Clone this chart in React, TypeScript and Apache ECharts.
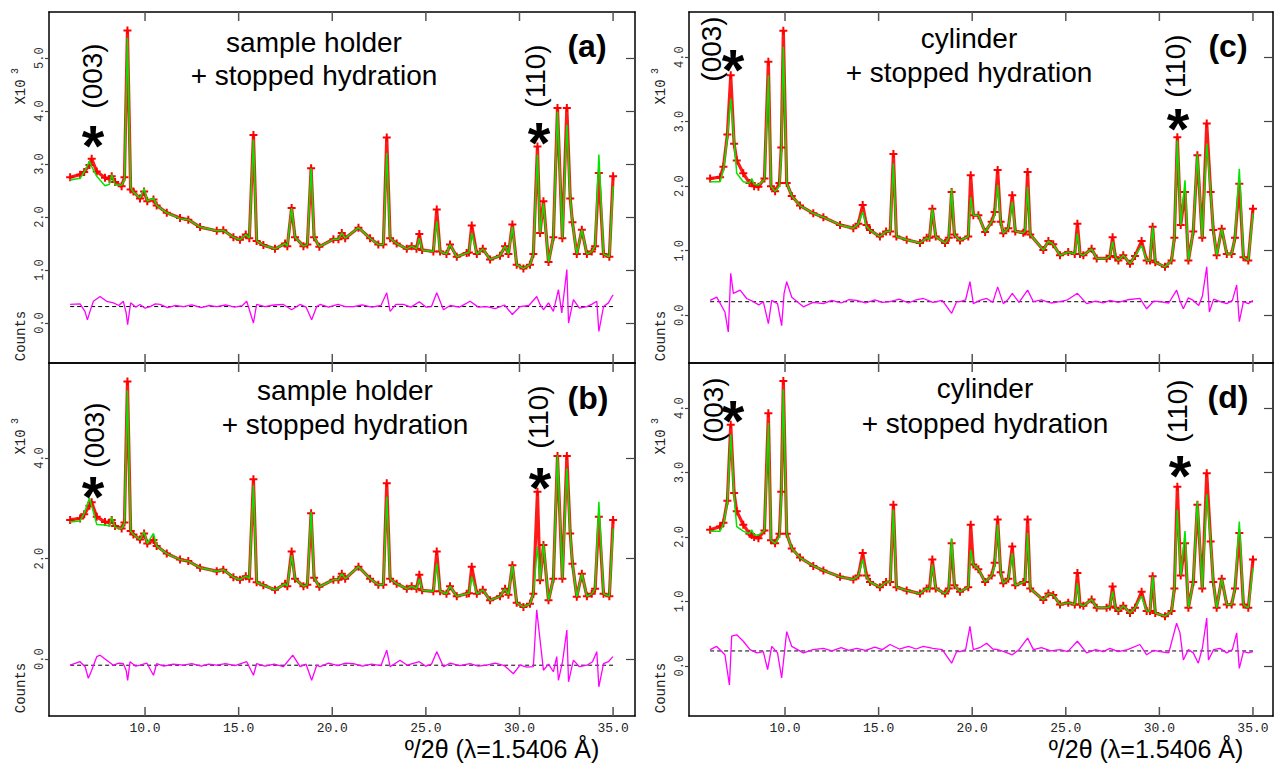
import React, { useEffect, useRef } from "react";
import * as echarts from "echarts";

// ---------- DATA (intensities in units of 10^3 counts) ----------
const thetaAB = [
  6.00, 6.53, 6.75, 7.03, 7.15, 7.42, 7.86, 8.10, 8.22, 8.40,
  8.75, 8.90, 9.06, 9.23, 9.38, 9.73, 9.95, 10.12, 10.45, 10.62,
  11.16, 11.87, 12.31, 12.94, 13.83, 14.18, 14.72, 15.07, 15.38, 15.57,
  15.79, 15.96, 16.32, 16.94, 17.48, 17.60, 17.83, 18.01, 18.46, 18.67,
  18.87, 19.03, 19.31, 20.06, 20.33, 20.51, 20.69, 21.40, 22.02, 22.46,
  22.73, 22.91, 23.09, 23.44, 23.98, 24.24, 24.50, 24.65, 24.80, 25.40,
  25.58, 25.76, 26.10, 26.29, 26.65, 27.18, 27.30, 27.45, 27.72, 28.04,
  28.43, 28.96, 29.23, 29.41, 29.62, 29.85, 30.21, 30.56, 30.74, 30.96,
  31.10, 31.28, 31.55, 31.81, 32.03, 32.29, 32.53, 32.71, 32.83, 33.06,
  33.33, 33.60, 33.86, 34.04, 34.24, 34.49, 34.80, 35.00,
];
const calcA = [
  2.70, 2.73, 2.85, 3.05, 2.95, 2.77, 2.59, 2.62, 2.80, 2.61,
  2.60, 2.70, 5.38, 2.55, 2.47, 2.36, 2.54, 2.30, 2.36, 2.22,
  2.08, 1.97, 1.95, 1.81, 1.74, 1.75, 1.62, 1.57, 1.67, 1.60,
  3.46, 1.55, 1.47, 1.40, 1.50, 1.45, 2.17, 1.62, 1.45, 1.48,
  2.92, 1.62, 1.44, 1.58, 1.58, 1.70, 1.60, 1.80, 1.60, 1.48,
  1.48, 3.21, 1.60, 1.50, 1.40, 1.45, 1.40, 1.60, 1.38, 1.35,
  1.92, 1.35, 1.30, 1.48, 1.25, 1.32, 1.33, 1.70, 1.30, 1.40,
  1.20, 1.27, 1.45, 1.30, 1.82, 1.10, 1.03, 1.10, 1.30, 3.18,
  1.70, 2.26, 1.15, 1.62, 3.99, 1.60, 3.74, 2.35, 1.90, 1.30,
  1.76, 1.30, 1.35, 1.45, 3.18, 1.30, 1.25, 2.58,
];
const obsA = [
  2.75, 2.80, 2.85, 2.98, 3.10, 2.86, 2.74, 2.72, 2.77, 2.66,
  2.58, 2.75, 5.52, 2.52, 2.48, 2.35, 2.48, 2.30, 2.33, 2.22,
  2.08, 1.98, 1.95, 1.81, 1.74, 1.75, 1.62, 1.57, 1.67, 1.60,
  3.55, 1.55, 1.47, 1.40, 1.50, 1.45, 2.17, 1.62, 1.45, 1.48,
  2.92, 1.62, 1.44, 1.58, 1.58, 1.70, 1.60, 1.80, 1.60, 1.48,
  1.48, 3.50, 1.60, 1.50, 1.40, 1.45, 1.40, 1.68, 1.38, 1.35,
  2.14, 1.35, 1.30, 1.48, 1.25, 1.32, 1.33, 1.84, 1.30, 1.40,
  1.20, 1.27, 1.45, 1.30, 1.86, 1.10, 1.03, 1.10, 1.30, 3.33,
  1.70, 2.30, 1.15, 1.62, 4.06, 1.60, 4.06, 2.35, 1.90, 1.30,
  1.76, 1.30, 1.35, 1.45, 2.83, 1.30, 1.25, 2.77,
];
const calcB = [
  2.73, 2.75, 2.90, 3.20, 3.05, 2.68, 2.67, 2.65, 2.83, 2.62,
  2.60, 2.70, 5.35, 2.55, 2.48, 2.38, 2.53, 2.30, 2.50, 2.25,
  2.10, 1.98, 1.95, 1.82, 1.75, 1.78, 1.63, 1.58, 1.65, 1.60,
  3.46, 1.53, 1.47, 1.38, 1.50, 1.45, 2.07, 1.60, 1.45, 1.48,
  2.93, 1.62, 1.44, 1.58, 1.58, 1.70, 1.60, 1.84, 1.60, 1.48,
  1.48, 3.23, 1.60, 1.50, 1.40, 1.45, 1.40, 1.60, 1.37, 1.35,
  1.90, 1.35, 1.30, 1.45, 1.25, 1.30, 1.31, 1.64, 1.30, 1.38,
  1.17, 1.25, 1.40, 1.28, 1.87, 1.12, 1.04, 1.10, 1.30, 2.24,
  1.57, 2.30, 1.17, 1.60, 4.06, 1.60, 3.79, 2.50, 1.90, 1.24,
  1.70, 1.25, 1.30, 1.40, 3.13, 1.30, 1.25, 2.60,
];
const obsB = [
  2.77, 2.80, 2.88, 3.05, 3.12, 2.83, 2.73, 2.72, 2.77, 2.65,
  2.60, 2.72, 5.52, 2.55, 2.48, 2.38, 2.50, 2.30, 2.37, 2.25,
  2.10, 1.98, 1.95, 1.82, 1.75, 1.78, 1.63, 1.58, 1.65, 1.60,
  3.58, 1.53, 1.47, 1.38, 1.50, 1.45, 2.14, 1.60, 1.45, 1.48,
  2.90, 1.62, 1.44, 1.58, 1.58, 1.70, 1.60, 1.84, 1.60, 1.48,
  1.48, 3.50, 1.60, 1.50, 1.40, 1.45, 1.40, 1.68, 1.37, 1.35,
  2.14, 1.35, 1.30, 1.45, 1.25, 1.30, 1.31, 1.84, 1.30, 1.38,
  1.17, 1.25, 1.40, 1.28, 1.87, 1.12, 1.04, 1.10, 1.30, 3.33,
  1.57, 2.27, 1.17, 1.60, 4.04, 1.60, 4.04, 2.50, 1.90, 1.24,
  1.70, 1.25, 1.30, 1.40, 2.83, 1.30, 1.25, 2.77,
];

const thetaCD = [
  6.00, 6.53, 6.71, 6.92, 7.10, 7.28, 7.42, 7.77, 8.10, 8.22,
  8.35, 8.58, 8.90, 9.11, 9.25, 9.47, 9.70, 9.80, 9.91, 10.09,
  10.36, 10.80, 11.51, 12.05, 12.94, 13.65, 13.92, 14.15, 14.35, 14.54,
  15.07, 15.40, 15.62, 15.79, 15.95, 16.50, 17.21, 17.57, 17.72, 17.87,
  18.05, 18.55, 18.75, 18.90, 19.05, 19.35, 19.79, 19.92, 20.06, 20.33,
  20.69, 21.04, 21.20, 21.36, 21.52, 21.66, 21.93, 22.14, 22.30, 22.73,
  22.82, 22.96, 23.10, 23.80, 24.07, 24.33, 24.69, 25.13, 25.48, 25.62,
  25.76, 25.94, 26.38, 26.65, 27.18, 27.36, 27.50, 27.65, 27.81, 28.07,
  28.43, 28.70, 29.05, 29.32, 29.50, 29.64, 29.78, 30.30, 30.65, 30.80,
  30.96, 31.14, 31.37, 31.55, 31.81, 32.03, 32.29, 32.53, 32.74, 32.88,
  33.06, 33.33, 33.60, 33.86, 34.04, 34.27, 34.49, 34.75, 35.00,
];
const calcC = [
  2.07, 2.07, 2.25, 2.76, 3.36, 2.71, 2.20, 2.07, 2.05, 2.12,
  2.03, 2.02, 2.10, 3.72, 2.00, 1.92, 2.00, 2.50, 4.16, 2.05,
  1.85, 1.70, 1.58, 1.52, 1.40, 1.35, 1.42, 1.60, 1.38, 1.32,
  1.22, 1.30, 1.30, 2.35, 1.22, 1.17, 1.12, 1.20, 1.18, 1.65,
  1.22, 1.12, 1.20, 1.96, 1.25, 1.16, 1.22, 1.83, 1.55, 1.55,
  1.29, 1.45, 1.55, 2.02, 1.45, 1.27, 1.35, 1.76, 1.30, 1.28,
  1.30, 1.99, 1.25, 1.01, 1.15, 1.10, 0.93, 0.98, 0.95, 1.27,
  0.95, 0.93, 1.03, 0.88, 0.88, 0.92, 1.14, 0.90, 0.85, 0.93,
  0.80, 0.92, 1.08, 0.85, 0.85, 1.37, 0.82, 0.75, 0.85, 1.20,
  2.71, 1.40, 2.09, 0.85, 1.30, 2.50, 1.20, 2.66, 1.91, 1.32,
  0.93, 1.34, 0.95, 0.95, 1.20, 2.27, 0.90, 0.85, 1.58,
];
const obsC = [
  2.12, 2.14, 2.30, 2.80, 3.72, 2.66, 2.40, 2.20, 2.05, 2.05,
  2.00, 1.99, 2.12, 3.93, 2.00, 1.92, 2.05, 2.60, 4.41, 2.05,
  1.85, 1.70, 1.58, 1.52, 1.40, 1.35, 1.42, 1.71, 1.40, 1.32,
  1.22, 1.30, 1.30, 2.50, 1.22, 1.17, 1.12, 1.20, 1.20, 1.65,
  1.22, 1.12, 1.20, 1.91, 1.25, 1.16, 1.22, 2.17, 1.55, 1.55,
  1.29, 1.45, 1.60, 2.25, 1.45, 1.27, 1.35, 1.86, 1.30, 1.28,
  1.30, 2.22, 1.25, 1.01, 1.15, 1.10, 0.93, 0.98, 0.95, 1.42,
  0.95, 0.93, 1.03, 0.88, 0.88, 0.92, 1.21, 0.90, 0.85, 0.93,
  0.80, 0.92, 1.15, 0.85, 0.85, 1.37, 0.82, 0.75, 0.85, 1.20,
  2.76, 1.40, 1.91, 0.85, 1.30, 2.48, 1.20, 2.97, 1.91, 1.32,
  0.93, 1.34, 0.95, 0.95, 1.20, 2.04, 0.90, 0.85, 1.65,
];
const calcD = [
  2.09, 2.09, 2.20, 2.53, 3.59, 2.63, 2.16, 2.09, 2.05, 2.11,
  2.03, 2.03, 2.10, 3.77, 1.95, 1.90, 2.00, 2.60, 4.29, 2.05,
  1.82, 1.68, 1.55, 1.48, 1.38, 1.34, 1.40, 1.65, 1.38, 1.30,
  1.22, 1.30, 1.30, 2.42, 1.22, 1.17, 1.12, 1.20, 1.18, 1.57,
  1.20, 1.12, 1.20, 1.98, 1.25, 1.15, 1.22, 1.80, 1.57, 1.50,
  1.30, 1.40, 1.55, 2.19, 1.45, 1.28, 1.35, 1.75, 1.25, 1.30,
  1.30, 2.06, 1.20, 1.02, 1.12, 1.10, 0.95, 0.98, 0.95, 1.28,
  0.95, 0.93, 1.03, 0.90, 0.90, 0.92, 1.15, 0.90, 0.85, 0.93,
  0.82, 0.90, 1.08, 0.85, 0.85, 1.39, 0.82, 0.77, 0.85, 1.20,
  2.42, 1.40, 2.09, 0.90, 1.30, 2.55, 1.20, 2.66, 1.93, 1.30,
  0.90, 1.35, 0.95, 0.95, 1.20, 2.24, 0.95, 0.90, 1.52,
];
const obsD = [
  2.11, 2.16, 2.22, 2.56, 3.74, 2.68, 2.40, 2.19, 2.05, 2.03,
  2.00, 1.98, 2.10, 3.92, 1.95, 1.90, 2.05, 2.70, 4.42, 2.05,
  1.82, 1.68, 1.55, 1.48, 1.38, 1.34, 1.40, 1.75, 1.40, 1.30,
  1.22, 1.30, 1.30, 2.50, 1.22, 1.17, 1.12, 1.20, 1.20, 1.65,
  1.20, 1.12, 1.20, 1.90, 1.25, 1.15, 1.22, 2.19, 1.57, 1.50,
  1.30, 1.40, 1.60, 2.27, 1.45, 1.28, 1.35, 1.85, 1.25, 1.30,
  1.30, 2.27, 1.20, 1.02, 1.12, 1.10, 0.95, 0.98, 0.95, 1.44,
  0.95, 0.93, 1.03, 0.90, 0.90, 0.92, 1.23, 0.90, 0.85, 0.93,
  0.82, 0.90, 1.15, 0.85, 0.85, 1.39, 0.82, 0.77, 0.85, 1.20,
  2.78, 1.40, 1.90, 0.90, 1.30, 2.50, 1.20, 2.99, 1.93, 1.30,
  0.90, 1.35, 0.95, 0.95, 1.20, 2.06, 0.95, 0.90, 1.65,
];

// difference curves (obs - calc, drawn with an offset), [2θ, value]
const diffA = [
  [6.00, 0.35], [6.53, 0.36], [6.79, 0.22], [6.92, 0.06], [7.06, 0.22], [7.24, 0.41], [7.60, 0.50], [7.95, 0.41],
  [8.31, 0.38], [8.60, 0.33], [8.84, 0.41], [8.99, 0.19], [9.07, -0.03], [9.23, 0.38], [9.50, 0.30], [9.73, 0.35],
  [10.00, 0.28], [10.27, 0.31], [10.55, 0.36], [10.80, 0.35], [11.20, 0.29], [11.60, 0.33], [12.05, 0.31], [12.50, 0.34],
  [13.00, 0.29], [13.40, 0.33], [13.83, 0.31], [14.30, 0.34], [14.80, 0.30], [15.20, 0.33], [15.43, 0.41], [15.79, 0.00],
  [15.96, 0.35], [16.40, 0.31], [16.90, 0.34], [17.39, 0.35], [17.83, 0.25], [18.28, 0.35], [18.60, 0.30], [18.90, 0.06],
  [19.17, 0.31], [19.35, 0.35], [19.80, 0.30], [20.30, 0.35], [20.70, 0.31], [21.13, 0.31], [21.60, 0.34], [22.10, 0.30],
  [22.60, 0.33], [22.91, 0.57], [23.09, 0.22], [23.40, 0.35], [23.80, 0.35], [24.20, 0.30], [24.65, 0.40], [25.00, 0.30],
  [25.30, 0.31], [25.58, 0.57], [25.94, 0.25], [26.30, 0.33], [26.80, 0.30], [27.36, 0.41], [27.80, 0.30], [28.25, 0.31],
  [28.70, 0.27], [29.20, 0.34], [29.62, 0.16], [30.03, 0.31], [30.50, 0.33], [30.92, 0.50], [31.10, 0.35], [31.28, 0.25],
  [31.55, 0.38], [31.81, 0.22], [32.08, 0.63], [32.26, 0.19], [32.53, 1.01], [32.62, 0.00], [32.88, 0.44], [33.20, 0.28],
  [33.60, 0.31], [33.90, 0.36], [34.13, 0.41], [34.24, -0.16], [34.49, 0.31], [34.75, 0.38], [34.94, 0.50], [35.00, 0.53],
];
const diffB = [
  [6.00, -0.12], [6.53, -0.05], [6.80, -0.15], [6.97, -0.38], [7.15, -0.22], [7.42, 0.05], [7.60, 0.08], [7.95, -0.02],
  [8.31, -0.12], [8.60, -0.08], [8.84, -0.09], [8.99, -0.22], [9.07, -0.42], [9.20, -0.05], [9.50, -0.14], [9.73, -0.12],
  [10.10, -0.08], [10.45, -0.32], [10.62, -0.09], [11.00, -0.14], [11.50, -0.10], [12.05, -0.12], [12.50, -0.09], [13.00, -0.14],
  [13.40, -0.10], [13.83, -0.12], [14.30, -0.09], [14.80, -0.13], [15.43, -0.05], [15.79, -0.32], [15.96, -0.09], [16.40, -0.14],
  [16.90, -0.10], [17.39, -0.15], [17.89, 0.08], [18.28, -0.15], [18.60, -0.10], [18.90, -0.42], [19.17, -0.12], [19.35, -0.15],
  [19.80, -0.08], [20.30, -0.13], [20.70, -0.08], [21.13, -0.09], [21.60, -0.14], [22.10, -0.10], [22.60, -0.13], [22.91, 0.18],
  [23.09, -0.15], [23.62, -0.02], [24.00, -0.12], [24.65, -0.05], [25.00, -0.14], [25.30, -0.10], [25.58, 0.15], [25.94, -0.15],
  [26.30, -0.08], [26.80, -0.13], [27.36, -0.09], [27.80, -0.14], [28.25, -0.12], [28.70, -0.08], [29.20, -0.13], [29.67, -0.29],
  [30.03, -0.12], [30.40, -0.16], [30.74, -0.15], [30.92, 0.98], [31.10, 0.38], [31.28, -0.22], [31.55, -0.10], [31.81, -0.25],
  [31.99, 0.05], [32.08, -0.42], [32.30, -0.05], [32.53, 0.58], [32.62, -0.45], [32.88, -0.02], [33.20, -0.15], [33.60, -0.12],
  [33.90, -0.05], [34.13, 0.15], [34.24, -0.55], [34.49, -0.09], [34.75, -0.05], [34.99, 0.05],
];
const diffC = [
  [6.00, 0.23], [6.35, 0.28], [6.79, 0.05], [6.97, -0.26], [7.10, 0.65], [7.24, 0.34], [7.60, 0.39], [7.95, 0.26],
  [8.31, 0.21], [8.60, 0.16], [8.84, 0.21], [9.11, -0.13], [9.29, 0.23], [9.60, 0.18], [9.82, -0.16], [9.95, 0.34],
  [10.09, 0.52], [10.36, 0.28], [10.98, 0.13], [11.50, 0.20], [12.05, 0.18], [12.50, 0.23], [13.00, 0.19], [13.40, 0.24],
  [13.83, 0.23], [14.30, 0.19], [14.80, 0.24], [15.20, 0.20], [15.61, 0.21], [16.10, 0.25], [16.60, 0.19], [17.00, 0.24],
  [17.39, 0.26], [17.90, 0.20], [18.40, 0.23], [18.90, 0.03], [19.17, 0.21], [19.35, 0.21], [19.65, 0.24], [19.88, 0.52],
  [20.06, 0.18], [20.40, 0.23], [20.77, 0.26], [21.10, 0.20], [21.36, 0.44], [21.66, 0.18], [21.90, 0.24], [22.14, 0.34],
  [22.50, 0.20], [22.96, 0.39], [23.27, 0.21], [23.70, 0.24], [24.20, 0.19], [24.69, 0.21], [25.10, 0.24], [25.62, 0.34],
  [26.11, 0.18], [26.60, 0.22], [27.00, 0.19], [27.36, 0.23], [27.80, 0.20], [28.30, 0.24], [28.96, 0.26], [29.32, 0.10],
  [29.70, 0.22], [30.03, 0.21], [30.50, 0.19], [30.92, 0.39], [31.10, 0.22], [31.28, 0.10], [31.55, 0.27], [31.81, 0.23],
  [32.10, 0.15], [32.30, 0.30], [32.53, 0.75], [32.67, 0.05], [32.90, 0.25], [33.24, 0.21], [33.60, 0.18], [33.90, 0.23],
  [34.13, 0.47], [34.27, -0.10], [34.49, 0.21], [34.75, 0.18], [35.00, 0.23],
];
const diffD = [
  [6.00, 0.25], [6.35, 0.30], [6.79, 0.17], [7.03, -0.30], [7.15, 0.46], [7.42, 0.48], [7.77, 0.38], [8.13, 0.25],
  [8.50, 0.20], [8.84, 0.22], [9.07, -0.06], [9.29, 0.30], [9.60, 0.20], [9.82, -0.19], [10.09, 0.53], [10.36, 0.30],
  [10.98, 0.20], [11.50, 0.25], [12.05, 0.27], [12.50, 0.23], [13.00, 0.28], [13.40, 0.24], [13.83, 0.27], [14.30, 0.24],
  [14.80, 0.29], [15.20, 0.25], [15.61, 0.33], [16.10, 0.26], [16.60, 0.30], [17.00, 0.26], [17.39, 0.30], [17.90, 0.27],
  [18.40, 0.25], [18.90, 0.04], [19.17, 0.22], [19.35, 0.22], [19.65, 0.25], [19.88, 0.61], [20.06, 0.25], [20.40, 0.28],
  [20.77, 0.35], [21.10, 0.26], [21.36, 0.25], [21.70, 0.22], [22.14, 0.17], [22.50, 0.25], [22.96, 0.43], [23.27, 0.25],
  [23.70, 0.28], [24.20, 0.23], [24.69, 0.25], [25.10, 0.22], [25.62, 0.38], [26.11, 0.20], [26.60, 0.25], [27.00, 0.22],
  [27.36, 0.27], [27.80, 0.22], [28.30, 0.25], [28.96, 0.33], [29.32, 0.17], [29.70, 0.24], [30.03, 0.22], [30.50, 0.20],
  [30.92, 0.66], [31.10, 0.51], [31.28, 0.09], [31.55, 0.25], [31.81, 0.20], [32.08, 0.04], [32.30, 0.28], [32.53, 0.74],
  [32.62, 0.09], [32.90, 0.25], [33.24, 0.27], [33.60, 0.20], [33.90, 0.25], [34.13, 0.51], [34.27, -0.04], [34.49, 0.22],
  [34.75, 0.20], [35.00, 0.22],
];
const diffZero = [0.31, -0.12, 0.21, 0.23];
const diffSpan = [6.0, 35.0];

const xTicks = [10, 15, 20, 25, 30, 35];
const yTicksA = [0, 1, 2, 3, 4, 5];
const yTicksB = [0, 2, 4];
const yTicksC = [0, 1, 2, 3, 4];
const yTicksD = [0, 1, 2, 3, 4];

const panelLetters = ["(a)", "(b)", "(c)", "(d)"];
const titleLine1 = ["sample holder", "sample holder", "cylinder", "cylinder"];
const titleLine2 = "+ stopped hydration";
const hkl003 = "(003)";
const hkl110 = "(110)";
const xTitle = "º/2θ (λ=1.5406 Å)";

// ---------- LAYOUT ----------
const SANS = 'Arial, "Liberation Sans", Helvetica, sans-serif';
const MONO = '"Liberation Mono", "Courier New", monospace';

const GRIDS = [
  { left: 49, top: 12, width: 586, height: 351 },
  { left: 49, top: 363, width: 586, height: 353 },
  { left: 689, top: 12, width: 584, height: 351 },
  { left: 689, top: 363, width: 584, height: 353 },
];
const X_RANGE = [[4.87, 36.17], [4.87, 36.17], [4.87, 36.07], [4.87, 36.07]];
const Y_RANGE = [[-0.755, 5.87], [-1.13, 5.89], [-0.74, 4.7], [-0.78, 4.7]];
const X_TICK_LEN = 9; // px

const LAYOUT = [
  { title: [314, 42, 75], letter: [587, 46], h003: [92, 76], s003: [93, 145], h110: [535, 76], s110: [539, 142], x10: [21, 92], sup: [15, 71], counts: [21, 336] },
  { title: [345, 390, 424], letter: [588, 398], h003: [94, 435], s003: [93, 496], h110: [538, 417], s110: [540, 487], x10: [21, 442], sup: [15, 421], counts: [21, 688] },
  { title: [969, 38, 72], letter: [1228, 46], h003: [711, 49], s003: [733, 69], h110: [1175, 66], s110: [1178, 128], x10: [661, 92], sup: [655, 71], counts: [661, 336] },
  { title: [985, 388, 423], letter: [1228, 397], h003: [713, 410], s003: [733, 420], h110: [1177, 411], s110: [1180, 475], x10: [661, 442], sup: [655, 421], counts: [661, 688] },
];
const X_TITLE_POS = [[502, 749], [1146, 749]];

const CROSS = "path://M3,0H5V3H8V5H5V8H3V5H0V3H3Z";

function pairs(theta: number[], vals: number[]) {
  return theta.map((t, i) => [t, vals[i]]);
}

export default function App() {
  const ref = useRef<HTMLDivElement>(null);

  useEffect(() => {
    if (!ref.current) return;
    const chart = echarts.init(ref.current, null, { renderer: "svg" });

    const panels = [
      { theta: thetaAB, calc: calcA, obs: obsA, diff: diffA, yTicks: yTicksA },
      { theta: thetaAB, calc: calcB, obs: obsB, diff: diffB, yTicks: yTicksB },
      { theta: thetaCD, calc: calcC, obs: obsC, diff: diffC, yTicks: yTicksC },
      { theta: thetaCD, calc: calcD, obs: obsD, diff: diffD, yTicks: yTicksD },
    ];

    const grid: any[] = [];
    const xAxis: any[] = [];
    const yAxis: any[] = [];
    const series: any[] = [];
    const graphic: any[] = [];

    panels.forEach((p, i) => {
      grid.push({ ...GRIDS[i], show: false });
      const showX = i === 1 || i === 3;
      ["bottom", "top"].forEach((pos, k) => {
        xAxis.push({
          type: "value",
          gridIndex: i,
          position: pos,
          min: X_RANGE[i][0],
          max: X_RANGE[i][1],
          axisLine: { show: true, onZero: false, lineStyle: { color: "#000", width: 1.5 } },
          splitLine: { show: false },
          axisTick: { show: false },
          axisLabel: {
            show: showX && k === 0,
            customValues: xTicks,
            formatter: (v: number) => v.toFixed(1),
            fontFamily: MONO,
            fontSize: 13,
            color: "#222",
            margin: 6,
          },
        });
      });
      ["left", "right"].forEach((pos, k) => {
        yAxis.push({
          type: "value",
          gridIndex: i,
          position: pos,
          min: Y_RANGE[i][0],
          max: Y_RANGE[i][1],
          axisLine: { show: true, onZero: false, lineStyle: { color: "#000", width: 1.5 } },
          splitLine: { show: false },
          axisTick: {
            show: true,
            inside: k === 1,
            length: k === 1 ? 9 : 4,
            customValues: p.yTicks,
            lineStyle: { color: "#444", width: 1.2 },
          },
          axisLabel: {
            show: k === 0,
            customValues: p.yTicks,
            rotate: 90,
            formatter: (v: number) => v.toFixed(1),
            fontFamily: MONO,
            fontSize: 12,
            color: "#333",
            margin: 3,
          },
        });
      });

      const xi = i * 2;
      const yi = i * 2;
      series.push({
        type: "line",
        xAxisIndex: xi,
        yAxisIndex: yi,
        data: pairs(p.theta, p.obs),
        symbol: CROSS,
        symbolSize: 8,
        showSymbol: true,
        showAllSymbol: true,
        itemStyle: { color: "#ff0000" },
        lineStyle: { color: "#ff1a1a", width: 3.2 },
        z: 2,
        silent: true,
      });
      series.push({
        type: "line",
        xAxisIndex: xi,
        yAxisIndex: yi,
        data: pairs(p.theta, p.calc),
        symbol: "none",
        lineStyle: { color: "#00e600", width: 1.5 },
        z: 3,
        silent: true,
      });
      series.push({
        type: "line",
        xAxisIndex: xi,
        yAxisIndex: yi,
        data: diffSpan.map((t) => [t, diffZero[i]]),
        symbol: "none",
        lineStyle: { color: "#000", width: 1, type: [4, 3] },
        z: 2,
        silent: true,
      });
      series.push({
        type: "line",
        xAxisIndex: xi,
        yAxisIndex: yi,
        data: p.diff,
        symbol: "none",
        lineStyle: { color: "#ff00ff", width: 1.3 },
        z: 3,
        silent: true,
      });

      const L = LAYOUT[i];
      const txt = (x: number, y: number, text: string, size: number, extra: any = {}, rotation = 0) => ({
        type: "text",
        x,
        y,
        rotation,
        z: 10,
        style: {
          text,
          fontSize: size,
          fontFamily: SANS,
          fill: "#000",
          align: "center",
          verticalAlign: "middle",
          ...extra,
        },
      });
      graphic.push(txt(L.title[0], L.title[1], titleLine1[i], 28));
      graphic.push(txt(L.title[0], L.title[2], titleLine2, 28));
      graphic.push(txt(L.letter[0], L.letter[1], panelLetters[i], 32, { fontWeight: "bold" }));
      graphic.push(txt(L.h003[0], L.h003[1], hkl003, 28, {}, Math.PI / 2));
      graphic.push(txt(L.h110[0], L.h110[1], hkl110, 28, {}, Math.PI / 2));
      graphic.push(txt(L.s003[0], L.s003[1], "*", 58, { fontWeight: "bold" }));
      graphic.push(txt(L.s110[0], L.s110[1], "*", 58, { fontWeight: "bold" }));
      graphic.push(txt(L.x10[0], L.x10[1], "X10", 14, { fontFamily: MONO, fill: "#222" }, Math.PI / 2));
      graphic.push(txt(L.sup[0], L.sup[1], "3", 10, { fontFamily: MONO, fill: "#222" }, Math.PI / 2));
      graphic.push(txt(L.counts[0], L.counts[1], "Counts", 14, { fontFamily: MONO, fill: "#222" }, Math.PI / 2));
    });

    X_TITLE_POS.forEach(([x, y]) => {
      graphic.push({
        type: "text",
        x,
        y,
        z: 10,
        style: { text: xTitle, fontSize: 25, fontFamily: SANS, fill: "#000", align: "center", verticalAlign: "middle" },
      });
    });

    chart.setOption({
      animation: false,
      backgroundColor: "#fff",
      textStyle: { fontFamily: SANS },
      grid,
      xAxis,
      yAxis,
      series,
    });

    // x-axis tick marks (top and bottom, pointing inward), placed with the axes' scales
    const toNum = (v: any) => (Array.isArray(v) ? Number(v[0]) : Number(v));
    panels.forEach((p, i) => {
      const g = GRIDS[i];
      const [xMin, xMax] = X_RANGE[i];
      const [yMin, yMax] = Y_RANGE[i];
      let yBot = toNum(chart.convertToPixel({ yAxisIndex: i * 2 } as any, yMin));
      let yTop = toNum(chart.convertToPixel({ yAxisIndex: i * 2 } as any, yMax));
      if (!isFinite(yBot)) yBot = g.top + g.height;
      if (!isFinite(yTop)) yTop = g.top;
      xTicks.forEach((t) => {
        let px = toNum(chart.convertToPixel({ xAxisIndex: i * 2 } as any, t));
        if (!isFinite(px)) px = g.left + ((t - xMin) / (xMax - xMin)) * g.width;
        graphic.push({
          type: "line",
          z: 100,
          silent: true,
          shape: { x1: px, y1: yBot, x2: px, y2: yBot - X_TICK_LEN },
          style: { stroke: "#555", lineWidth: 1.5 },
        });
        graphic.push({
          type: "line",
          z: 100,
          silent: true,
          shape: { x1: px, y1: yTop, x2: px, y2: yTop + X_TICK_LEN },
          style: { stroke: "#555", lineWidth: 1.5 },
        });
      });
    });

    chart.setOption({ graphic });

    return () => chart.dispose();
  }, []);

  return (
    <div
      ref={ref}
      style={{ position: "absolute", left: 0, top: 0, width: 1274, height: 765 }}
    />
  );
}
